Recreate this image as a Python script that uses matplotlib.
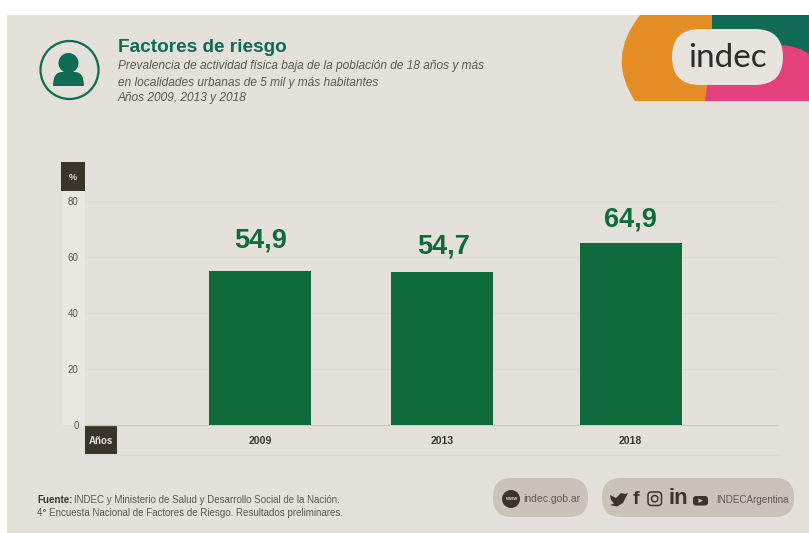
import matplotlib
matplotlib.use("Agg")
import matplotlib.pyplot as plt
from matplotlib.patches import Rectangle, Circle, FancyBboxPatch, PathPatch, Polygon
from matplotlib.path import Path

plt.rcParams['font.family'] = ['Liberation Sans', 'DejaVu Sans']

# data
years = ['2009', '2013', '2018']
values = [54.9, 54.7, 64.9]
value_labels = ['54,9', '54,7', '64,9']
y_ticks = [0, 20, 40, 60, 80]

BG = '#e4e1da'
GREEN = '#0f6b3b'
TEAL = '#0f6b54'
DARK = '#39352b'
GREY = '#5c5852'
PILL = '#c9c3ba'

W, H = 809, 533
fig = plt.figure(figsize=(W / 100, H / 100), dpi=100, facecolor='white')

# full figure layer, pixel coords
bg = fig.add_axes([0, 0, 1, 1], zorder=0)
bg.set_xlim(0, W)
bg.set_ylim(H, 0)
bg.axis('off')
bg.add_patch(Rectangle((7, 15), W - 7, H - 15, fc=BG, ec='none'))

# band behind the y axis
bg.add_patch(Rectangle((62, 191), 23, 234, fc='#e9e7e1', ec='none'))
bg.plot([85, 778], [455, 455], color='#dedbd3', lw=0.9)

# chart
ax = fig.add_axes([85 / W, 1 - 425 / H, (778 - 85) / W, 224 / H], zorder=1)
ax.patch.set_alpha(0)
x_pos = [175, 357, 545.5]
ax.bar(x_pos, values, width=102, color=GREEN, zorder=3)
ax.set_xlim(0, 693)
ax.set_ylim(0, 80)
ax.set_yticks(y_ticks)
ax.set_xticks(x_pos)
ax.set_xticklabels(years)
ax.tick_params(axis='both', length=0)
ax.tick_params(axis='y', pad=4.5, labelsize=7, labelcolor=GREY)
ax.tick_params(axis='x', pad=8, labelsize=7.6, labelcolor='#3a3833')
for t in ax.get_xticklabels():
    t.set_fontweight('bold')
ax.grid(axis='y', color='#dedbd3', lw=0.9, zorder=0)
for s in ['top', 'right', 'left']:
    ax.spines[s].set_visible(False)
ax.spines['bottom'].set_color('#cfccc4')
ax.spines['bottom'].set_linewidth(0.9)

# value labels, not centred on the bars in the original
offs = [(0.5, 13), (1, 9), (0, 8)]
for x, v, lab, o in zip(x_pos, values, value_labels, offs):
    ax.annotate(lab, (x, v), xytext=o, textcoords='offset points', ha='center',
                va='bottom', fontsize=19.5, fontweight='bold', color=GREEN)

# tags
bg.add_patch(Rectangle((61, 162), 24, 29, fc=DARK, ec='none'))
bg.text(73, 177, '%', color='#d8d5cc', fontsize=6.5, fontweight='bold', ha='center', va='center')
bg.add_patch(Rectangle((85, 426), 32, 28, fc=DARK, ec='none'))
bg.text(101, 441, 'Años', color='#e8e5de', fontsize=7, fontweight='bold', ha='center', va='center')

# person icon
bg.add_patch(Circle((69.5, 70), 29, fc='none', ec=TEAL, lw=1.6))
bg.add_patch(Circle((68.5, 63), 10, fc=TEAL, ec='none'))
bg.add_patch(PathPatch(Path([(53, 86), (53, 72), (62, 72), (75, 72), (84, 72), (84, 86), (53, 86)],
                            [Path.MOVETO, Path.CURVE3, Path.CURVE3, Path.LINETO, Path.CURVE3, Path.CURVE3, Path.CLOSEPOLY]),
                       fc=TEAL, ec='none'))

# header text
bg.text(118, 48, 'Factores de riesgo', color=TEAL, fontsize=13.7, fontweight='bold', va='center')
subs = ['Prevalencia de actividad física baja de la población de 18 años y más',
        'en localidades urbanas de 5 mil y más habitantes',
        'Años 2009, 2013 y 2018']
for yy, s in zip([66, 83, 98], subs):
    bg.text(118, yy, s, color=GREY, fontsize=8.6, style='italic', va='center')

# logo
bg.add_patch(Rectangle((712, 15), W - 712, 86, fc=TEAL, ec='none'))
bg.add_patch(PathPatch(Path([(700, 101), (700, 45), (783, 45), (800, 47), (809, 54), (809, 101), (700, 101)],
                            [Path.MOVETO, Path.LINETO, Path.LINETO, Path.CURVE3, Path.CURVE3, Path.LINETO, Path.CLOSEPOLY]),
                       fc='#e3407c', ec='none'))
bg.add_patch(PathPatch(Path([(640, 15), (712, 15), (712, 50), (705, 101), (635, 101), (606, 58), (640, 15)],
                            [Path.MOVETO, Path.LINETO, Path.LINETO, Path.LINETO, Path.LINETO, Path.CURVE3, Path.CURVE3]),
                       fc='#e58e26', ec='none'))
bg.add_patch(FancyBboxPatch((672, 29), 111, 56, boxstyle='round,pad=0,rounding_size=28', fc='#e6e4dd', ec='none'))
bg.text(727.5, 58, 'indec', color='#2e2c28', fontsize=24, family='Lato', ha='center', va='center')

# footer
bg.text(37, 500, 'Fuente:', color='#3a3833', fontsize=7, fontweight='bold', va='center')
bg.text(74, 500, 'INDEC y Ministerio de Salud y Desarrollo Social de la Nación.', color=GREY, fontsize=7, va='center')
bg.text(37, 513, '4° Encuesta Nacional de Factores de Riesgo. Resultados preliminares.', color=GREY, fontsize=7, va='center')

# pills
bg.add_patch(FancyBboxPatch((493, 478), 95, 39, boxstyle='round,pad=0,rounding_size=19', fc=PILL, ec='none'))
bg.add_patch(FancyBboxPatch((602, 478), 192, 39, boxstyle='round,pad=0,rounding_size=19', fc=PILL, ec='none'))
bg.add_patch(Circle((511, 499), 9, fc=DARK, ec='none'))
bg.text(511, 499, 'www', color='#d8d5cc', fontsize=3.8, fontweight='bold', ha='center', va='center')
bg.text(523, 498.5, 'indec.gob.ar', color=GREY, fontsize=7.5, va='center')
bg.text(716, 500, 'INDECArgentina', color=GREY, fontsize=7.1, va='center')

# social icons
bg.add_patch(Polygon([(610, 495), (616, 498), (621, 493), (625, 494), (628, 493), (626, 497), (623, 503),
                      (617, 506.5), (610, 505), (614, 503.5), (611, 500)], fc=DARK, ec='none'))
bg.text(635.5, 499.5, 'f', color=DARK, fontsize=14, fontweight='bold', ha='center', va='center')
bg.add_patch(FancyBboxPatch((648, 492), 13.5, 13.5, boxstyle='round,pad=0,rounding_size=3.5', fc='none', ec=DARK, lw=1.1))
bg.add_patch(Circle((654.7, 498.7), 3.2, fc='none', ec=DARK, lw=1.1))
bg.text(678, 498.5, 'in', color=DARK, fontsize=16, fontweight='bold', ha='center', va='center')
bg.add_patch(FancyBboxPatch((693, 496), 15, 9.5, boxstyle='round,pad=0,rounding_size=3', fc=DARK, ec='none'))
bg.add_patch(Polygon([(698.5, 498.5), (698.5, 503), (703, 500.7)], fc=PILL, ec='none'))

fig.savefig('out.png', dpi=100, facecolor='white')
